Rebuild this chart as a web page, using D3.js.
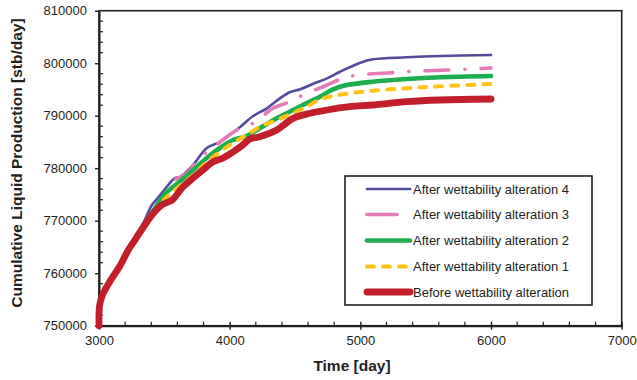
<!DOCTYPE html>
<html>
<head>
<meta charset="utf-8">
<script src="https://cdn.jsdelivr.net/npm/d3@7"></script>
<style>
  html, body { margin: 0; padding: 0; background: #fff; }
  svg { display: block; }
  text { font-family: "Liberation Sans", Arial, sans-serif; fill: #231f20; }
</style>
</head>
<body>
<svg id="chart" width="637" height="380"></svg>
<script>
// ---------- data ----------
const xTicks = [3000, 4000, 5000, 6000, 7000];
const yTicks = [750000, 760000, 770000, 780000, 790000, 800000, 810000];

const seriesNames = [
  "After wettability alteration 4",
  "After wettability alteration 3",
  "After wettability alteration 2",
  "After wettability alteration 1",
  "Before wettability alteration"
];

const commonDays = [3000, 3005, 3030, 3085, 3160, 3220, 3275];
const commonVals = [750000, 753940, 756040, 758510, 761370, 764230, 766320];

const alt4Days = [3330, 3405, 3450, 3530, 3580, 3620, 3720, 3825, 3925, 4000, 4080, 4180, 4285, 4385, 4460, 4540, 4635, 4745, 4845, 5000, 5095, 5355, 5610, 6000];
const alt4Vals = [768990, 772990, 774320, 776800, 778130, 778320, 780610, 783850, 784990, 786320, 787850, 789940, 791410, 793310, 794460, 795030, 796040, 797120, 798380, 800100, 800740, 801120, 801370, 801560];

const alt3Days = [3330, 3405, 3505, 3580, 3675, 3775, 3870, 3965, 4055, 4155, 4245, 4330, 4440, 4560, 4745, 4865, 4980, 5205, 5440, 5665, 6000];
const alt3Vals = [768800, 771660, 774900, 777750, 779090, 782130, 783850, 785750, 787280, 788230, 789750, 791410, 792480, 793940, 795850, 797120, 797750, 798130, 798510, 798700, 799090];

const alt2Days = [3330, 3430, 3505, 3605, 3720, 3825, 3925, 4025, 4130, 4230, 4360, 4460, 4560, 4690, 4790, 4880, 5095, 5355, 5610, 6000];
const alt2Vals = [768800, 772420, 775090, 777180, 779660, 781940, 783850, 785370, 786130, 787600, 789500, 790760, 792040, 793620, 795030, 795750, 796480, 796990, 797320, 797560];

const alt1Days = [3330, 3390, 3480, 3545, 3645, 3720, 3825, 3925, 4025, 4130, 4230, 4360, 4485, 4590, 4690, 4790, 4920, 5095, 5355, 5610, 6000];
const alt1Vals = [768420, 770700, 773560, 775090, 777180, 778700, 781180, 783090, 784800, 786320, 787850, 789180, 790520, 791710, 793090, 793750, 794270, 794760, 795220, 795600, 796040];

const beforeDays = [3330, 3405, 3480, 3560, 3635, 3720, 3795, 3870, 3950, 4025, 4100, 4155, 4230, 4360, 4485, 4615, 4745, 4920, 5095, 5355, 5610, 6000];
const beforeVals = [768420, 771090, 772990, 773940, 776230, 778130, 779660, 781180, 781940, 783090, 784420, 785560, 786000, 787280, 789500, 790460, 791090, 791710, 792040, 792670, 792990, 793180];

// ---------- layout ----------
const svg = d3.select("#chart");
const L = 99, R = 621.7, T = 10.7, B = 325.7;

const x = d3.scaleLinear().domain([3000, 7000]).range([L, R]);
const y = d3.scaleLinear().domain([750000, 810000]).range([B, T]);

const styles = [
  { color: "#544a9e", width: 2.6, dash: null },
  { color: "#e47ab6", width: 3.6, dash: "24,16,0.1,16" },
  { color: "#1fae4e", width: 4.6, dash: null },
  { color: "#fec315", width: 4.0, dash: "7,9" },
  { color: "#c21f2b", width: 6.8, dash: null }
];

const dayArrays = [alt4Days, alt3Days, alt2Days, alt1Days, beforeDays];
const valArrays = [alt4Vals, alt3Vals, alt2Vals, alt1Vals, beforeVals];

const series = seriesNames.map((name, i) => ({
  name,
  pts: commonDays.map((d, j) => [d, commonVals[j]])
        .concat(dayArrays[i].map((d, j) => [d, valArrays[i][j]])),
  style: styles[i]
}));

// frame (top & right)
svg.append("rect")
  .attr("x", L).attr("y", T)
  .attr("width", R - L).attr("height", B - T)
  .attr("fill", "none").attr("stroke", "#231f20").attr("stroke-width", 1.6);

// minor ticks
const xMinor = d3.range(3000, 7001, 200).filter(v => v % 1000 !== 0);
const yMinor = d3.range(750000, 810001, 2000).filter(v => v % 10000 !== 0);

svg.append("g").selectAll("line").data(xMinor).join("line")
  .attr("x1", d => x(d)).attr("x2", d => x(d))
  .attr("y1", B).attr("y2", B - 4)
  .attr("stroke", "#231f20").attr("stroke-width", 1.2);

svg.append("g").selectAll("line").data(yMinor).join("line")
  .attr("y1", d => y(d)).attr("y2", d => y(d))
  .attr("x1", L).attr("x2", L + 4)
  .attr("stroke", "#231f20").attr("stroke-width", 1.2);

// axes
const xAxis = d3.axisBottom(x).tickValues(xTicks).tickFormat(d3.format("d"))
  .tickSizeInner(4).tickSizeOuter(0).tickPadding(6);
const gx = svg.append("g").attr("transform", `translate(0,${B})`).call(xAxis);
gx.select(".domain").attr("stroke", "#231f20").attr("stroke-width", 2);
gx.selectAll(".tick line").attr("stroke", "#231f20").attr("stroke-width", 1.4).attr("y1", -4);
gx.selectAll(".tick text").attr("font-size", 13).attr("fill", "#231f20")
  .attr("font-family", "'Liberation Sans', Arial, sans-serif");

const yAxis = d3.axisLeft(y).tickValues(yTicks).tickFormat(d3.format("d"))
  .tickSizeInner(4).tickSizeOuter(0).tickPadding(8);
const gy = svg.append("g").attr("transform", `translate(${L},0)`).call(yAxis);
gy.select(".domain").attr("stroke", "#231f20").attr("stroke-width", 2);
gy.selectAll(".tick line").attr("stroke", "#231f20").attr("stroke-width", 1.4);
gy.selectAll(".tick text").attr("font-size", 13).attr("fill", "#231f20")
  .attr("font-family", "'Liberation Sans', Arial, sans-serif");

// axis titles
svg.append("text")
  .attr("x", 352).attr("y", 371)
  .attr("text-anchor", "middle")
  .attr("font-size", 15.5).attr("font-weight", "bold")
  .text("Time [day]");

svg.append("text")
  .attr("transform", "translate(21.5,163) rotate(-90)")
  .attr("text-anchor", "middle")
  .attr("font-size", 15.5).attr("font-weight", "bold")
  .text("Cumulative Liquid Production [stb/day]");

// lines
const line = d3.line().x(d => x(d[0])).y(d => y(d[1])).curve(d3.curveCatmullRom.alpha(0.5));

svg.append("g").selectAll("path").data(series).join("path")
  .attr("d", d => line(d.pts))
  .attr("fill", "none")
  .attr("stroke", d => d.style.color)
  .attr("stroke-width", d => d.style.width)
  .attr("stroke-dasharray", d => d.style.dash)
  .attr("stroke-linecap", "round")
  .attr("stroke-linejoin", "round");

// legend
const lg = svg.append("g");
lg.append("rect")
  .attr("x", 345).attr("y", 176).attr("width", 247).attr("height", 129)
  .attr("fill", "#fff").attr("stroke", "#231f20").attr("stroke-width", 1.6);

const legendY = [189, 214.5, 240.5, 266.5, 292];
const sampleEnds = [410, 397, 410, 410, 410];
series.forEach((s, i) => {
  lg.append("line")
    .attr("x1", 367).attr("x2", sampleEnds[i])
    .attr("y1", legendY[i]).attr("y2", legendY[i])
    .attr("stroke", s.style.color)
    .attr("stroke-width", s.style.width)
    .attr("stroke-linecap", "round")
    .attr("stroke-dasharray", i === 3 ? "7,9" : null);
  lg.append("text")
    .attr("x", 413).attr("y", legendY[i])
    .attr("dy", "0.35em")
    .attr("font-size", 13)
    .text(s.name);
});
</script>
</body>
</html>
